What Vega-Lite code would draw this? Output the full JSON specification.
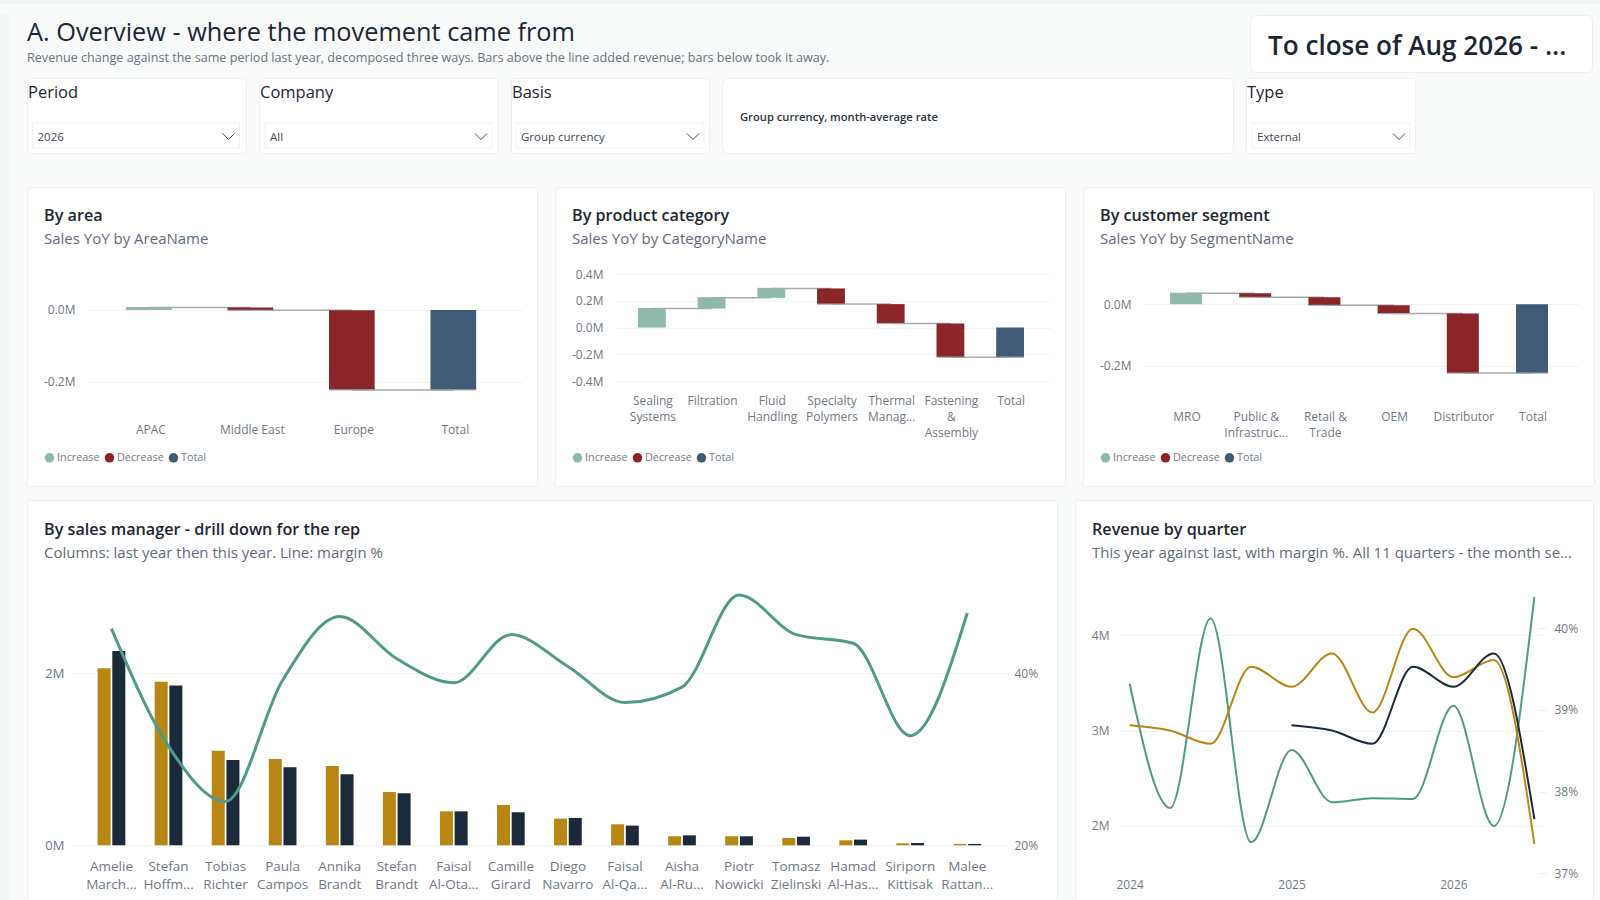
{
  "$schema": "https://vega.github.io/schema/vega-lite/v6.json",
  "background": "#f9fafa",
  "padding": 0,
  "config": {
    "font": "Open Sans",
    "view": {"stroke": null},
    "axis": {"domain": false, "ticks": false, "title": null, "labelFont": "Open Sans", "labelColor": "#6f7985", "labelFontSize": 12, "labelPadding": 0, "labelAngle": 0, "labelOverlap": false, "labelFlush": false, "gridColor": "#f1f2f4", "grid": false},
    "legend": {"labelFont": "Open Sans", "labelColor": "#6f7985", "labelFontSize": 10.8}
  },
  "datasets": {
    "area": [
      {"cat": "APAC", "next": "Middle East", "start": 0, "end": 0.007, "kind": "Increase"},
      {"cat": "Middle East", "next": "Europe", "start": 0.007, "end": -0.001, "kind": "Decrease"},
      {"cat": "Europe", "next": "Total", "start": -0.001, "end": -0.223, "kind": "Decrease"},
      {"cat": "Total", "next": null, "start": 0, "end": -0.223, "kind": "Total"}
    ],
    "category": [
      {"cat": "Sealing Systems", "next": "Filtration", "start": 0, "end": 0.142, "kind": "Increase"},
      {"cat": "Filtration", "next": "Fluid Handling", "start": 0.142, "end": 0.222, "kind": "Increase"},
      {"cat": "Fluid Handling", "next": "Specialty Polymers", "start": 0.222, "end": 0.292, "kind": "Increase"},
      {"cat": "Specialty Polymers", "next": "Thermal Manag...", "start": 0.292, "end": 0.175, "kind": "Decrease"},
      {"cat": "Thermal Manag...", "next": "Fastening & Assembly", "start": 0.175, "end": 0.03, "kind": "Decrease"},
      {"cat": "Fastening & Assembly", "next": "Total", "start": 0.03, "end": -0.222, "kind": "Decrease"},
      {"cat": "Total", "next": null, "start": 0, "end": -0.222, "kind": "Total"}
    ],
    "segment": [
      {"cat": "MRO", "next": "Public & Infrastruc...", "start": 0, "end": 0.036, "kind": "Increase"},
      {"cat": "Public & Infrastruc...", "next": "Retail & Trade", "start": 0.036, "end": 0.023, "kind": "Decrease"},
      {"cat": "Retail & Trade", "next": "OEM", "start": 0.023, "end": -0.003, "kind": "Decrease"},
      {"cat": "OEM", "next": "Distributor", "start": -0.003, "end": -0.03, "kind": "Decrease"},
      {"cat": "Distributor", "next": "Total", "start": -0.03, "end": -0.223, "kind": "Decrease"},
      {"cat": "Total", "next": null, "start": 0, "end": -0.223, "kind": "Total"}
    ],
    "managers": [
      {"name": "Amelie March...", "period": "Last year", "sales": 2.058},
      {"name": "Amelie March...", "period": "This year", "sales": 2.26},
      {"name": "Stefan Hoffm...", "period": "Last year", "sales": 1.903},
      {"name": "Stefan Hoffm...", "period": "This year", "sales": 1.857},
      {"name": "Tobias Richter", "period": "Last year", "sales": 1.1},
      {"name": "Tobias Richter", "period": "This year", "sales": 0.992},
      {"name": "Paula Campos", "period": "Last year", "sales": 1.004},
      {"name": "Paula Campos", "period": "This year", "sales": 0.907},
      {"name": "Annika Brandt", "period": "Last year", "sales": 0.922},
      {"name": "Annika Brandt", "period": "This year", "sales": 0.826},
      {"name": "Stefan Brandt", "period": "Last year", "sales": 0.62},
      {"name": "Stefan Brandt", "period": "This year", "sales": 0.605},
      {"name": "Faisal Al-Ota...", "period": "Last year", "sales": 0.395},
      {"name": "Faisal Al-Ota...", "period": "This year", "sales": 0.395},
      {"name": "Camille Girard", "period": "Last year", "sales": 0.469},
      {"name": "Camille Girard", "period": "This year", "sales": 0.384},
      {"name": "Diego Navarro", "period": "Last year", "sales": 0.31},
      {"name": "Diego Navarro", "period": "This year", "sales": 0.318},
      {"name": "Faisal Al-Qa...", "period": "Last year", "sales": 0.244},
      {"name": "Faisal Al-Qa...", "period": "This year", "sales": 0.229},
      {"name": "Aisha Al-Ru...", "period": "Last year", "sales": 0.105},
      {"name": "Aisha Al-Ru...", "period": "This year", "sales": 0.116},
      {"name": "Piotr Nowicki", "period": "Last year", "sales": 0.105},
      {"name": "Piotr Nowicki", "period": "This year", "sales": 0.105},
      {"name": "Tomasz Zielinski", "period": "Last year", "sales": 0.085},
      {"name": "Tomasz Zielinski", "period": "This year", "sales": 0.1},
      {"name": "Hamad Al-Has...", "period": "Last year", "sales": 0.058},
      {"name": "Hamad Al-Has...", "period": "This year", "sales": 0.066},
      {"name": "Siriporn Kittisak", "period": "Last year", "sales": 0.023},
      {"name": "Siriporn Kittisak", "period": "This year", "sales": 0.027},
      {"name": "Malee Rattan...", "period": "Last year", "sales": 0.016},
      {"name": "Malee Rattan...", "period": "This year", "sales": 0.016}
    ],
    "managerMargin": [
      {"name": "Amelie March...", "margin": 45.2},
      {"name": "Stefan Hoffm...", "margin": 31.5},
      {"name": "Tobias Richter", "margin": 25.1},
      {"name": "Paula Campos", "margin": 39.2},
      {"name": "Annika Brandt", "margin": 46.6},
      {"name": "Stefan Brandt", "margin": 41.7},
      {"name": "Faisal Al-Ota...", "margin": 38.9},
      {"name": "Camille Girard", "margin": 44.5},
      {"name": "Diego Navarro", "margin": 40.8},
      {"name": "Faisal Al-Qa...", "margin": 36.6},
      {"name": "Aisha Al-Ru...", "margin": 38.4},
      {"name": "Piotr Nowicki", "margin": 49.1},
      {"name": "Tomasz Zielinski", "margin": 44.5},
      {"name": "Hamad Al-Has...", "margin": 43.5},
      {"name": "Siriporn Kittisak", "margin": 32.75},
      {"name": "Malee Rattan...", "margin": 47}
    ],
    "quarters": [
      {"quarter": "2024 Q1", "series": "This year", "revenue": 3.056},
      {"quarter": "2024 Q2", "series": "This year", "revenue": 3.0},
      {"quarter": "2024 Q3", "series": "This year", "revenue": 2.86},
      {"quarter": "2024 Q4", "series": "This year", "revenue": 3.67},
      {"quarter": "2025 Q1", "series": "This year", "revenue": 3.46},
      {"quarter": "2025 Q2", "series": "This year", "revenue": 3.81},
      {"quarter": "2025 Q3", "series": "This year", "revenue": 3.19},
      {"quarter": "2025 Q4", "series": "This year", "revenue": 4.07},
      {"quarter": "2026 Q1", "series": "This year", "revenue": 3.56},
      {"quarter": "2026 Q2", "series": "This year", "revenue": 3.74},
      {"quarter": "2026 Q3", "series": "This year", "revenue": 1.81},
      {"quarter": "2025 Q1", "series": "Last year", "revenue": 3.056},
      {"quarter": "2025 Q2", "series": "Last year", "revenue": 3.0},
      {"quarter": "2025 Q3", "series": "Last year", "revenue": 2.86},
      {"quarter": "2025 Q4", "series": "Last year", "revenue": 3.67},
      {"quarter": "2026 Q1", "series": "Last year", "revenue": 3.46},
      {"quarter": "2026 Q2", "series": "Last year", "revenue": 3.81},
      {"quarter": "2026 Q3", "series": "Last year", "revenue": 2.07}
    ],
    "quarterMargin": [
      {"quarter": "2024 Q1", "margin": 39.32},
      {"quarter": "2024 Q2", "margin": 37.8},
      {"quarter": "2024 Q3", "margin": 40.12},
      {"quarter": "2024 Q4", "margin": 37.38},
      {"quarter": "2025 Q1", "margin": 38.51},
      {"quarter": "2025 Q2", "margin": 37.87},
      {"quarter": "2025 Q3", "margin": 37.92},
      {"quarter": "2025 Q4", "margin": 37.91},
      {"quarter": "2026 Q1", "margin": 39.05},
      {"quarter": "2026 Q2", "margin": 37.58},
      {"quarter": "2026 Q3", "margin": 40.38}
    ]
  },
  "spacing": 10,
  "resolve": {"scale": {"color": "independent"}},
  "vconcat": [
    {"width": 1600, "height": 4, "view": {"fill": "#f2f3f3"}, "data": {"values": []}, "mark": "rect"},
    {
      "spacing": 16,
      "resolve": {"scale": {"color": "independent"}},
      "hconcat": [
        {"width": 10, "height": 886, "view": {"fill": "#f4f5f5"}, "data": {"values": []}, "mark": "rect"},
        {
          "spacing": 32,
          "resolve": {"scale": {"color": "independent"}},
          "vconcat": [
            {
              "spacing": 4,
              "resolve": {"scale": {"color": "independent"}},
              "vconcat": [
                {
                  "bounds": "flush",
                  "spacing": 13,
                  "hconcat": [
                    {
                      "width": 1210,
                      "height": 57,
                      "title": {"text": "A. Overview - where the movement came from", "subtitle": "Revenue change against the same period last year, decomposed three ways. Bars above the line added revenue; bars below took it away.", "anchor": "start", "frame": "group", "offset": -50, "dx": 0, "font": "Open Sans", "fontSize": 25.3, "fontWeight": 400, "color": "#1c2735", "subtitleFont": "Open Sans", "subtitleFontSize": 12.6, "subtitleColor": "#69727d", "subtitlePadding": 6},
                      "data": {"values": [{"note": ""}]},
                      "mark": {"type": "text"},
                      "encoding": {"text": {"field": "note"}}
                    },
                    {
                      "width": 342,
                      "height": 57,
                      "view": {"fill": "white", "stroke": "#eceef0", "cornerRadius": 6},
                      "data": {"values": [{"label": "To close of Aug 2026 - ..."}]},
                      "mark": {"type": "text", "align": "left", "font": "Open Sans", "fontSize": 26.1, "fontWeight": 600, "color": "#1c2735"},
                      "encoding": {
                        "x": {"field": "label", "type": "nominal", "axis": null, "scale": {"type": "point", "range": [18, 18]}},
                        "y": {"field": "label", "type": "nominal", "axis": null, "scale": {"type": "point", "range": [32, 32]}},
                        "text": {"field": "label"}
                      }
                    }
                  ]
                },
                {
                  "bounds": "flush",
                  "spacing": 13,
                  "hconcat": [
                    {
                      "width": 219,
                      "height": 75,
                      "view": {"fill": "white", "stroke": "#eceef0", "cornerRadius": 3},
                      "title": {"text": "Period", "anchor": "start", "frame": "group", "offset": -23, "dx": 1, "font": "Open Sans", "fontSize": 16.5, "fontWeight": 500, "color": "#1c2735"},
                      "data": {"values": [{"choice": "2026"}]},
                      "layer": [
                        {"mark": {"type": "rect", "fill": "white", "stroke": "#eef0f2"}, "encoding": {"x": {"field": "choice", "type": "nominal", "axis": null, "scale": {"type": "band", "range": [5.5, 212.5], "padding": 0}}, "y": {"field": "choice", "type": "nominal", "axis": null, "scale": {"type": "band", "range": [45, 70], "padding": 0}}}},
                        {"mark": {"type": "text", "align": "left", "dx": 5, "dy": 2, "fontSize": 11.5, "color": "#3d4652"}, "encoding": {"x": {"field": "choice", "type": "nominal", "bandPosition": 0, "axis": null}, "y": {"field": "choice", "type": "nominal", "axis": null}, "text": {"field": "choice"}}},
                        {"mark": {"type": "point", "shape": "M-1,-0.5L0,0.5L1,-0.5", "size": 144, "filled": false, "stroke": "#444c56", "strokeWidth": 1, "opacity": 1, "xOffset": -11, "yOffset": 1}, "encoding": {"x": {"field": "choice", "type": "nominal", "bandPosition": 1, "axis": null}, "y": {"field": "choice", "type": "nominal", "axis": null}}}
                      ]
                    },
                    {
                      "width": 239,
                      "height": 75,
                      "view": {"fill": "white", "stroke": "#eceef0", "cornerRadius": 3},
                      "title": {"text": "Company", "anchor": "start", "frame": "group", "offset": -23, "dx": 1, "font": "Open Sans", "fontSize": 16.5, "fontWeight": 500, "color": "#1c2735"},
                      "data": {"values": [{"choice": "All"}]},
                      "layer": [
                        {"mark": {"type": "rect", "fill": "white", "stroke": "#eef0f2"}, "encoding": {"x": {"field": "choice", "type": "nominal", "axis": null, "scale": {"type": "band", "range": [6, 233], "padding": 0}}, "y": {"field": "choice", "type": "nominal", "axis": null, "scale": {"type": "band", "range": [45, 70], "padding": 0}}}},
                        {"mark": {"type": "text", "align": "left", "dx": 5, "dy": 2, "fontSize": 11.5, "color": "#3d4652"}, "encoding": {"x": {"field": "choice", "type": "nominal", "bandPosition": 0, "axis": null}, "y": {"field": "choice", "type": "nominal", "axis": null}, "text": {"field": "choice"}}},
                        {"mark": {"type": "point", "shape": "M-1,-0.5L0,0.5L1,-0.5", "size": 144, "filled": false, "stroke": "#444c56", "strokeWidth": 1, "opacity": 1, "xOffset": -11, "yOffset": 1}, "encoding": {"x": {"field": "choice", "type": "nominal", "bandPosition": 1, "axis": null}, "y": {"field": "choice", "type": "nominal", "axis": null}}}
                      ]
                    },
                    {
                      "width": 198,
                      "height": 75,
                      "view": {"fill": "white", "stroke": "#eceef0", "cornerRadius": 3},
                      "title": {"text": "Basis", "anchor": "start", "frame": "group", "offset": -23, "dx": 1, "font": "Open Sans", "fontSize": 16.5, "fontWeight": 500, "color": "#1c2735"},
                      "data": {"values": [{"choice": "Group currency"}]},
                      "layer": [
                        {"mark": {"type": "rect", "fill": "white", "stroke": "#eef0f2"}, "encoding": {"x": {"field": "choice", "type": "nominal", "axis": null, "scale": {"type": "band", "range": [5, 193], "padding": 0}}, "y": {"field": "choice", "type": "nominal", "axis": null, "scale": {"type": "band", "range": [45, 70], "padding": 0}}}},
                        {"mark": {"type": "text", "align": "left", "dx": 5, "dy": 2, "fontSize": 11.5, "color": "#3d4652"}, "encoding": {"x": {"field": "choice", "type": "nominal", "bandPosition": 0, "axis": null}, "y": {"field": "choice", "type": "nominal", "axis": null}, "text": {"field": "choice"}}},
                        {"mark": {"type": "point", "shape": "M-1,-0.5L0,0.5L1,-0.5", "size": 144, "filled": false, "stroke": "#444c56", "strokeWidth": 1, "opacity": 1, "xOffset": -11, "yOffset": 1}, "encoding": {"x": {"field": "choice", "type": "nominal", "bandPosition": 1, "axis": null}, "y": {"field": "choice", "type": "nominal", "axis": null}}}
                      ]
                    },
                    {
                      "width": 511,
                      "height": 75,
                      "view": {"fill": "white", "stroke": "#eceef0", "cornerRadius": 6},
                      "data": {"values": [{"label": "Group currency, month-average rate"}]},
                      "mark": {"type": "text", "align": "left", "font": "Open Sans", "fontSize": 11.2, "fontWeight": 600, "color": "#2a3440"},
                      "encoding": {
                        "x": {"field": "label", "type": "nominal", "axis": null, "scale": {"type": "point", "range": [18, 18]}},
                        "y": {"field": "label", "type": "nominal", "axis": null, "scale": {"type": "point", "range": [40, 40]}},
                        "text": {"field": "label"}
                      }
                    },
                    {
                      "width": 169,
                      "height": 75,
                      "view": {"fill": "white", "stroke": "#eceef0", "cornerRadius": 3},
                      "title": {"text": "Type", "anchor": "start", "frame": "group", "offset": -23, "dx": 1, "font": "Open Sans", "fontSize": 16.5, "fontWeight": 500, "color": "#1c2735"},
                      "data": {"values": [{"choice": "External"}]},
                      "layer": [
                        {"mark": {"type": "rect", "fill": "white", "stroke": "#eef0f2"}, "encoding": {"x": {"field": "choice", "type": "nominal", "axis": null, "scale": {"type": "band", "range": [6, 164], "padding": 0}}, "y": {"field": "choice", "type": "nominal", "axis": null, "scale": {"type": "band", "range": [45, 70], "padding": 0}}}},
                        {"mark": {"type": "text", "align": "left", "dx": 5, "dy": 2, "fontSize": 11.5, "color": "#3d4652"}, "encoding": {"x": {"field": "choice", "type": "nominal", "bandPosition": 0, "axis": null}, "y": {"field": "choice", "type": "nominal", "axis": null}, "text": {"field": "choice"}}},
                        {"mark": {"type": "point", "shape": "M-1,-0.5L0,0.5L1,-0.5", "size": 144, "filled": false, "stroke": "#444c56", "strokeWidth": 1, "opacity": 1, "xOffset": -11, "yOffset": 1}, "encoding": {"x": {"field": "choice", "type": "nominal", "bandPosition": 1, "axis": null}, "y": {"field": "choice", "type": "nominal", "axis": null}}}
                      ]
                    }
                  ]
                }
              ]
            },
            {
              "spacing": 12,
              "resolve": {"scale": {"color": "independent"}},
              "vconcat": [
                {
                  "bounds": "flush",
                  "spacing": 18,
                  "resolve": {"scale": {"color": "independent"}},
                  "hconcat": [
                    {
                      "width": 510,
                      "height": 299,
                      "view": {"fill": "white", "stroke": "#eceef0", "cornerRadius": 3},
                      "title": {"text": "By area", "subtitle": "Sales YoY by AreaName", "anchor": "start", "frame": "group", "offset": -59.5, "dx": 17, "font": "Open Sans", "fontSize": 16.2, "fontWeight": 600, "color": "#1c2735", "subtitleFont": "Open Sans", "subtitleFontSize": 15, "subtitleColor": "#5f6b7a", "subtitlePadding": 7.5},
                      "data": {"name": "area"},
                      "layer": [
                        {
                          "transform": [{"filter": "datum.next != null"}],
                          "mark": {"type": "rule", "stroke": "#a3aab3", "strokeWidth": 1.5},
                          "encoding": {
                            "x": {"field": "cat", "type": "nominal", "axis": {"offset": -62, "labelOffset": 2}, "scale": {"type": "band", "domain": ["APAC", "Middle East", "Europe", "Total"], "range": [59, 495], "paddingInner": 0.55, "paddingOuter": 0.423, "align": 0.466}},
                            "x2": {"field": "next"},
                            "y": {"field": "end", "type": "quantitative", "axis": {"offset": -48, "grid": true, "values": [-0.2, 0], "labelExpr": "(datum.value<0?'-':'')+format(abs(datum.value),'.1f')+'M'"}, "scale": {"domain": [-0.3, 0.1], "range": [230.5, 87.15], "nice": false, "zero": false}}
                          }
                        },
                        {
                          "mark": {"type": "bar"},
                          "encoding": {
                            "x": {"field": "cat", "type": "nominal"},
                            "y": {"field": "start", "type": "quantitative"},
                            "y2": {"field": "end"},
                            "color": {"field": "kind", "type": "nominal", "scale": {"domain": ["Increase", "Decrease", "Total"], "range": ["#8fb9aa", "#8b2528", "#3f5b75"]}, "legend": {"orient": "none", "legendX": 17, "legendY": 265, "direction": "horizontal", "title": null, "symbolType": "circle", "symbolSize": 90, "columnPadding": 4, "labelOffset": 2, "padding": 0}}
                          }
                        },
                        {
                          "mark": {"type": "tick", "size": 45.5, "thickness": 1.2, "color": "#a3aab3", "opacity": 1},
                          "encoding": {
                            "x": {"field": "cat", "type": "nominal"},
                            "y": {"field": "end", "type": "quantitative"}
                          }
                        }
                      ]
                    },
                    {
                      "width": 510,
                      "height": 299,
                      "view": {"fill": "white", "stroke": "#eceef0", "cornerRadius": 3},
                      "title": {"text": "By product category", "subtitle": "Sales YoY by CategoryName", "anchor": "start", "frame": "group", "offset": -59.5, "dx": 17, "font": "Open Sans", "fontSize": 16.2, "fontWeight": 600, "color": "#1c2735", "subtitleFont": "Open Sans", "subtitleFontSize": 15, "subtitleColor": "#5f6b7a", "subtitlePadding": 7.5},
                      "data": {"name": "category"},
                      "layer": [
                        {
                          "transform": [{"filter": "datum.next != null"}],
                          "mark": {"type": "rule", "stroke": "#a3aab3", "strokeWidth": 1.5},
                          "encoding": {
                            "x": {"field": "cat", "type": "nominal", "axis": {"offset": -91, "labelOffset": 1, "labelLineHeight": 16, "labelExpr": "split(datum.label,' ')"}, "scale": {"type": "band", "domain": ["Sealing Systems", "Filtration", "Fluid Handling", "Specialty Polymers", "Thermal Manag...", "Fastening & Assembly", "Total"], "range": [59, 495], "paddingInner": 0.534, "paddingOuter": 0.4185, "align": 0.48}},
                            "x2": {"field": "next"},
                            "y": {"field": "end", "type": "quantitative", "axis": {"offset": -48, "grid": true, "values": [-0.4, -0.2, 0, 0.2, 0.4], "labelExpr": "(datum.value<0?'-':'')+format(abs(datum.value),'.1f')+'M'"}, "scale": {"domain": [-0.4, 0.4], "range": [194, 87], "nice": false, "zero": false}}
                          }
                        },
                        {
                          "mark": {"type": "bar"},
                          "encoding": {
                            "x": {"field": "cat", "type": "nominal"},
                            "y": {"field": "start", "type": "quantitative"},
                            "y2": {"field": "end"},
                            "color": {"field": "kind", "type": "nominal", "scale": {"domain": ["Increase", "Decrease", "Total"], "range": ["#8fb9aa", "#8b2528", "#3f5b75"]}, "legend": {"orient": "none", "legendX": 17, "legendY": 265, "direction": "horizontal", "title": null, "symbolType": "circle", "symbolSize": 90, "columnPadding": 4, "labelOffset": 2, "padding": 0}}
                          }
                        },
                        {
                          "mark": {"type": "tick", "size": 27.8, "thickness": 1.2, "color": "#a3aab3", "opacity": 1},
                          "encoding": {
                            "x": {"field": "cat", "type": "nominal"},
                            "y": {"field": "end", "type": "quantitative"}
                          }
                        }
                      ]
                    },
                    {
                      "width": 511,
                      "height": 299,
                      "view": {"fill": "white", "stroke": "#eceef0", "cornerRadius": 3},
                      "title": {"text": "By customer segment", "subtitle": "Sales YoY by SegmentName", "anchor": "start", "frame": "group", "offset": -59.5, "dx": 17, "font": "Open Sans", "fontSize": 16.2, "fontWeight": 600, "color": "#1c2735", "subtitleFont": "Open Sans", "subtitleFontSize": 15, "subtitleColor": "#5f6b7a", "subtitlePadding": 7.5},
                      "data": {"name": "segment"},
                      "layer": [
                        {
                          "transform": [{"filter": "datum.next != null"}],
                          "mark": {"type": "rule", "stroke": "#a3aab3", "strokeWidth": 1.5},
                          "encoding": {
                            "x": {"field": "cat", "type": "nominal", "axis": {"offset": -75, "labelOffset": 1, "labelLineHeight": 16, "labelExpr": "split(replace(datum.label,'& ','&|'),'|')"}, "scale": {"type": "band", "domain": ["MRO", "Public & Infrastruc...", "Retail & Trade", "OEM", "Distributor", "Total"], "range": [59, 495], "paddingInner": 0.5376, "paddingOuter": 0.419, "align": 0.483}},
                            "x2": {"field": "next"},
                            "y": {"field": "end", "type": "quantitative", "axis": {"offset": -48, "grid": true, "values": [-0.2, 0], "labelExpr": "(datum.value<0?'-':'')+format(abs(datum.value),'.1f')+'M'"}, "scale": {"domain": [-0.3, 0.1], "range": [209.8, 86.5], "nice": false, "zero": false}}
                          }
                        },
                        {
                          "mark": {"type": "bar"},
                          "encoding": {
                            "x": {"field": "cat", "type": "nominal"},
                            "y": {"field": "start", "type": "quantitative"},
                            "y2": {"field": "end"},
                            "color": {"field": "kind", "type": "nominal", "scale": {"domain": ["Increase", "Decrease", "Total"], "range": ["#8fb9aa", "#8b2528", "#3f5b75"]}, "legend": {"orient": "none", "legendX": 17, "legendY": 265, "direction": "horizontal", "title": null, "symbolType": "circle", "symbolSize": 90, "columnPadding": 4, "labelOffset": 2, "padding": 0}}
                          }
                        },
                        {
                          "mark": {"type": "tick", "size": 32, "thickness": 1.2, "color": "#a3aab3", "opacity": 1},
                          "encoding": {
                            "x": {"field": "cat", "type": "nominal"},
                            "y": {"field": "end", "type": "quantitative"}
                          }
                        }
                      ]
                    }
                  ]
                },
                {
                  "bounds": "flush",
                  "spacing": 18,
                  "resolve": {"scale": {"color": "independent"}},
                  "hconcat": [
                    {
                      "width": 1030,
                      "height": 400,
                      "view": {"fill": "white", "stroke": "#eceef0", "cornerRadius": 3},
                      "title": {"text": "By sales manager - drill down for the rep", "subtitle": "Columns: last year then this year. Line: margin %", "anchor": "start", "frame": "group", "offset": -60.5, "dx": 17, "font": "Open Sans", "fontSize": 16.2, "fontWeight": 600, "color": "#1c2735", "subtitleFont": "Open Sans", "subtitleFontSize": 15, "subtitleColor": "#5f6b7a", "subtitlePadding": 7.5},
                      "resolve": {"scale": {"y": "independent"}},
                      "layer": [
                        {
                          "data": {"name": "managers"},
                          "mark": {"type": "bar"},
                          "encoding": {
                            "x": {"field": "name", "type": "nominal", "sort": null, "axis": {"offset": -41, "labelFontSize": 13.5, "labelLineHeight": 18, "labelExpr": "split(datum.label,' ')"}, "scale": {"type": "band", "range": [47, 979], "paddingInner": 0.5145, "paddingOuter": 0.425, "align": 0.487}},
                            "xOffset": {"field": "period", "type": "nominal", "sort": ["Last year", "This year"], "scale": {"paddingInner": 0.115, "paddingOuter": 0}},
                            "y": {"field": "sales", "type": "quantitative", "axis": {"offset": -37, "grid": true, "values": [0, 2], "labelFontSize": 13, "labelExpr": "datum.value+'M'"}, "scale": {"domain": [0, 3], "range": [345.3, 87.3], "nice": false}},
                            "color": {"field": "period", "type": "nominal", "legend": null, "scale": {"domain": ["Last year", "This year"], "range": ["#b88713", "#1b2a3a"]}}
                          }
                        },
                        {
                          "data": {"name": "managerMargin"},
                          "mark": {"type": "line", "interpolate": "monotone", "stroke": "#4f9a8a", "strokeWidth": 3},
                          "encoding": {
                            "x": {"field": "name", "type": "nominal", "sort": null},
                            "y": {"field": "margin", "type": "quantitative", "axis": {"orient": "right", "offset": -43, "values": [20, 40], "labelExpr": "datum.value+'%'"}, "scale": {"domain": [20, 50], "range": [345.3, 87.3], "nice": false, "zero": false}}
                          }
                        }
                      ]
                    },
                    {
                      "width": 518,
                      "height": 400,
                      "view": {"fill": "white", "stroke": "#eceef0", "cornerRadius": 3},
                      "title": {"text": "Revenue by quarter", "subtitle": "This year against last, with margin %. All 11 quarters - the month se...", "anchor": "start", "frame": "group", "offset": -60.5, "dx": 17, "font": "Open Sans", "fontSize": 16.2, "fontWeight": 600, "color": "#1c2735", "subtitleFont": "Open Sans", "subtitleFontSize": 15, "subtitleColor": "#5f6b7a", "subtitlePadding": 7.5},
                      "resolve": {"scale": {"y": "independent"}},
                      "layer": [
                        {
                          "data": {"name": "quarterMargin"},
                          "mark": {"type": "line", "interpolate": "monotone", "stroke": "#4f9a8a", "strokeWidth": 2},
                          "encoding": {
                            "x": {"field": "quarter", "type": "nominal", "axis": {"offset": -21, "values": ["2024 Q1", "2025 Q1", "2026 Q1"], "labelExpr": "slice(datum.label,0,4)"}, "scale": {"type": "point", "domain": ["2024 Q1", "2024 Q2", "2024 Q3", "2024 Q4", "2025 Q1", "2025 Q2", "2025 Q3", "2025 Q4", "2026 Q1", "2026 Q2", "2026 Q3"], "range": [44, 470], "padding": 0.263}},
                            "y": {"field": "margin", "type": "quantitative", "axis": {"orient": "right", "offset": -47, "ticks": true, "tickSize": -8, "tickColor": "#eef0f2", "labelPadding": 16, "values": [37, 38, 39, 40], "labelExpr": "datum.value+'%'"}, "scale": {"domain": [37, 41], "range": [373.3, 46.5], "nice": false, "zero": false}}
                          }
                        },
                        {
                          "data": {"name": "quarters"},
                          "mark": {"type": "line", "interpolate": "monotone", "strokeWidth": 2},
                          "encoding": {
                            "x": {"field": "quarter", "type": "nominal"},
                            "y": {"field": "revenue", "type": "quantitative", "axis": {"offset": -34, "grid": true, "values": [2, 3, 4], "labelExpr": "datum.value+'M'"}, "scale": {"domain": [1.5, 4.5], "range": [373.3, 87.7], "nice": false, "zero": false}},
                            "color": {"field": "series", "type": "nominal", "legend": null, "scale": {"domain": ["This year", "Last year"], "range": ["#b88713", "#1b2a3a"]}}
                          }
                        }
                      ]
                    }
                  ]
                }
              ]
            }
          ]
        }
      ]
    }
  ]
}
